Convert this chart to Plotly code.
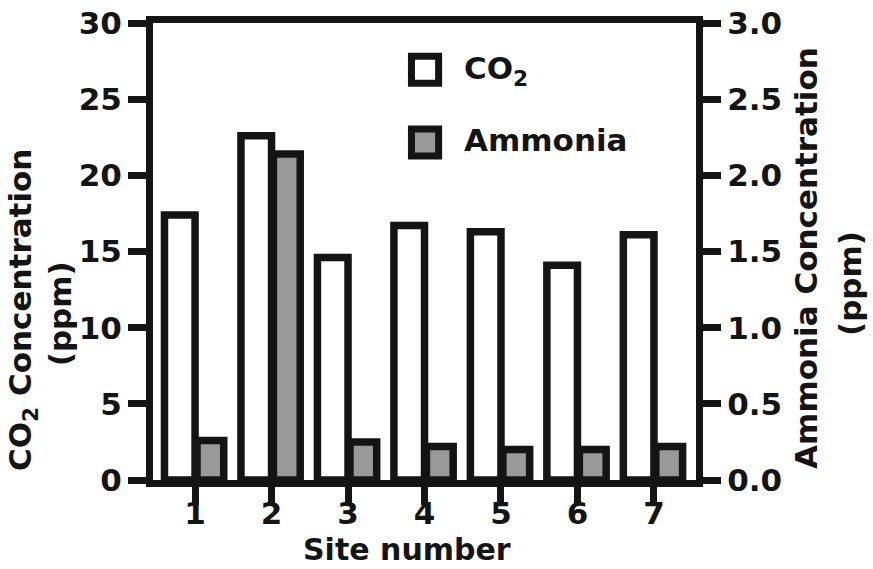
import plotly.graph_objects as go

sites = [1, 2, 3, 4, 5, 6, 7]
co2 = [17.4, 22.6, 14.6, 16.7, 16.3, 14.1, 16.1]
ammonia = [0.26, 2.14, 0.25, 0.22, 0.20, 0.20, 0.22]
y_ticks = [0, 5, 10, 15, 20, 25, 30]
y2_ticks = [0.0, 0.5, 1.0, 1.5, 2.0, 2.5, 3.0]

INK = "#141414"
FONT = dict(family="DejaVu Sans", size=31, color=INK, weight="bold")

fig = go.Figure()
fig.add_trace(go.Bar(
    x=sites, y=co2, width=0.4, offset=-0.4, name="CO2",
    marker=dict(color="white", line=dict(color=INK, width=7.5)),
    yaxis="y",
))
fig.add_trace(go.Bar(
    x=sites, y=ammonia, width=0.35, offset=0.025, name="Ammonia",
    marker=dict(color="#999999", line=dict(color=INK, width=7.5)),
    yaxis="y2",
))

axis_common = dict(
    showline=True, linewidth=7, linecolor=INK,
    ticks="outside", ticklen=18, tickwidth=7, tickcolor=INK,
    showgrid=False, zeroline=False, tickfont=FONT, automargin=False,
)

fig.update_layout(
    template="none",
    width=873, height=569,
    margin=dict(l=153, r=177, t=23, b=89),
    paper_bgcolor="white", plot_bgcolor="white",
    barmode="overlay", showlegend=False,
    xaxis=dict(range=[0.45, 7.55], tickvals=sites, mirror=True,
               ticklabelstandoff=-18, **axis_common),
    yaxis=dict(range=[0, 30], tickvals=y_ticks, **axis_common),
    yaxis2=dict(range=[0, 3], tickvals=y2_ticks, tickformat=".1f",
                overlaying="y", side="right", **axis_common),
)

# legend drawn manually (large swatches)
fig.add_shape(type="rect", xref="paper", yref="paper",
              x0=0.476, x1=0.526, y0=0.868, y1=0.927,
              fillcolor="white", line=dict(color=INK, width=7))
fig.add_shape(type="rect", xref="paper", yref="paper",
              x0=0.476, x1=0.526, y0=0.709, y1=0.768,
              fillcolor="#999999", line=dict(color=INK, width=7))

def ann(text, x, y, angle=0, xanchor="center", yanchor="middle", size=31):
    f = dict(FONT, size=size)
    fig.add_annotation(text=text, x=x, y=y, xref="paper", yref="paper",
                       showarrow=False, textangle=angle, font=f,
                       xanchor=xanchor, yanchor=yanchor)

ann("CO<sub>2</sub>", 0.569, 0.895, xanchor="left")
ann("Ammonia", 0.569, 0.744, xanchor="left")
ann("Site number", 0.4678, -0.1940, yanchor="bottom", size=30)
ann("CO<sub>2</sub> Concentration", -0.2394, 0.372, angle=-90)
ann("(ppm)", -0.171, 0.363, angle=-90)
ann("Ammonia Concentration", 1.2026, 0.486, angle=-90)
ann("(ppm)", 1.2836, 0.431, angle=-90)

fig.write_html("out.html", config={"displayModeBar": False},
               post_script="document.body.style.margin='0px';document.body.style.overflow='hidden';")
